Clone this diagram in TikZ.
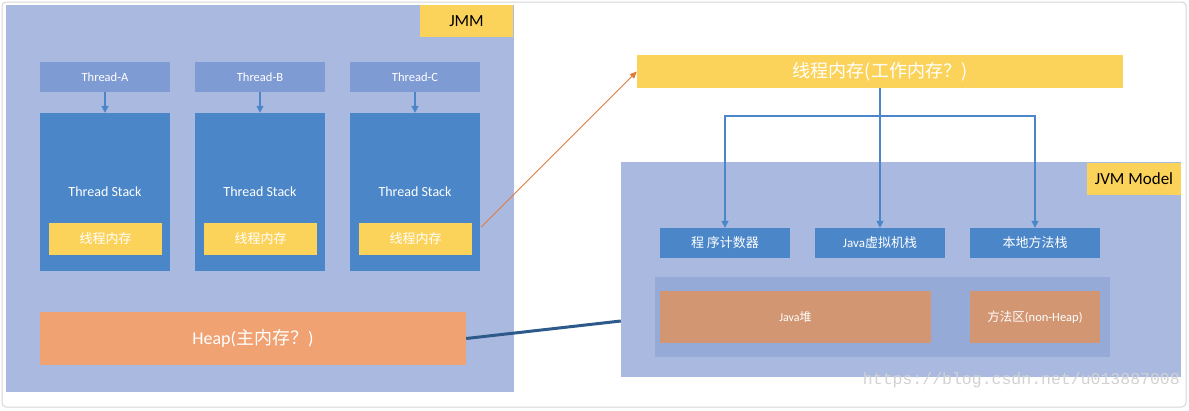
\documentclass[tikz,border=0pt]{standalone}
\usepackage{fontspec}
\setmainfont{Carlito}
\newfontfamily\cjk{Noto Sans CJK SC}
\newfontfamily\wmfont{Liberation Mono}
\usetikzlibrary{arrows.meta,calc}
\definecolor{jmmbg}{HTML}{A9B9E0}
\definecolor{hdr}{HTML}{7F9BD4}
\definecolor{stk}{HTML}{4A86C8}
\definecolor{ylw}{HTML}{FCD35A}
\definecolor{heapc}{HTML}{F0A273}
\definecolor{jheap}{HTML}{D29672}
\definecolor{panel}{HTML}{95AAD6}
\definecolor{darkln}{HTML}{2E5A8B}
\definecolor{orng}{HTML}{E07B3A}
\definecolor{frame}{HTML}{D6D6D6}
\definecolor{wm}{HTML}{D2D2D2}
\tikzset{
  blk/.style={rectangle, inner sep=0pt, draw=none, text=white, align=center},
  hdrbox/.style={blk, fill=hdr, minimum width=130pt, minimum height=30pt, font=\fontsize{12.5}{14}\selectfont},
  stkbox/.style={blk, fill=stk, minimum width=130pt, minimum height=158pt},
  memsm/.style={blk, fill=ylw, minimum width=113pt, minimum height=32pt, font=\cjk\fontsize{13}{15}\selectfont},
  jvmbox/.style={blk, fill=stk, minimum width=130pt, minimum height=30pt, font=\fontsize{13}{15}\selectfont},
  lbl/.style={rectangle, inner sep=0pt, fill=ylw, text=black, font=\fontsize{17}{19}\selectfont},
  tip/.style={-{Triangle[width=7pt,length=7pt]}},
}
\begin{document}
\begin{tikzpicture}[x=1pt,y=-1pt]
\useasboundingbox (0,0) rectangle (1189,410);
\draw[frame, fill=white, rounded corners=4pt, line width=1pt] (2,2) rectangle (1186,407);

% JMM
\node[fill=jmmbg, inner sep=0pt, minimum width=508pt, minimum height=387pt] (jmm) at (260,198.5) {};
\node[lbl, minimum width=93pt, minimum height=32pt] (jmmlbl) at (466.5,21) {JMM};

\foreach \n/\x/\t in {A/105/Thread-A, B/260/Thread-B, C/415/Thread-C}{
  \node[hdrbox] (h\n) at (\x,77) {\t};
  \node[stkbox] (s\n) at (\x,192) {};
  \node[text=white, font=\fontsize{14}{16}\selectfont, inner sep=0pt] (st\n) at (\x,192) {Thread Stack};
  \node[memsm] (m\n) at ($(\x,239)+(0.5,0)$) {线程内存};
  \draw[stk, line width=1.2pt, tip] (h\n.south) -- (s\n.north);
}

\node[blk, fill=heapc, minimum width=426pt, minimum height=53pt, font=\fontsize{18}{20}\selectfont] (heap) at (253,338.5) {Heap({\cjk 主内存？})};

% Thread memory top
\node[blk, fill=ylw, minimum width=486pt, minimum height=33pt, font=\cjk\fontsize{18}{20}\selectfont] (tm) at (880,71.5) {线程内存(工作内存？)};

% JVM Model
\node[fill=jmmbg, inner sep=0pt, minimum width=560pt, minimum height=215pt] (jvm) at (901,269.5) {};
\node[lbl, minimum width=94pt, minimum height=32pt] (jvmlbl) at (1134,179) {JVM Model};

\node[jvmbox] (pc) at (725,243) {{\cjk 程 序计数器}};
\node[jvmbox] (vs) at (880,243) {Java{\cjk 虚拟机栈}};
\node[jvmbox] (ns) at (1035,243) {{\cjk 本地方法栈}};

\node[fill=panel, inner sep=0pt, minimum width=455pt, minimum height=80pt] (pnl) at (882.5,317) {};
\node[blk, fill=jheap, minimum width=271pt, minimum height=52pt, font=\fontsize{12}{14}\selectfont] (jh) at (795.5,317) {Java{\cjk 堆}};
\node[blk, fill=jheap, minimum width=130pt, minimum height=52pt, font=\fontsize{12.5}{14}\selectfont] (ma) at (1035,317) {{\cjk 方法区}(non-Heap)};

% connectors
\coordinate (split) at (880,116);
\draw[stk, line width=1.2pt] (tm.south) -- (split);
\draw[stk, line width=1.2pt, tip] (split) -| (pc.north);
\draw[stk, line width=1.2pt, tip] (split) -- (vs.north);
\draw[stk, line width=1.2pt, tip] (split) -| (ns.north);

\coordinate (oc) at ($(sC.east)+(1,35)$);
\draw[orng, line width=0.9pt, -{Triangle[width=6pt,length=7pt]}] (oc) -- (tm.west);

\coordinate (jin) at ($(jvm.west)+(0,51.5)$);
\draw[darkln, line width=3pt] (heap.east) -- (jin);

% watermark
\node[text=wm, font=\wmfont\fontsize{16.5}{18}\selectfont, anchor=east, inner sep=0pt] (wmk) at (1180,380) {https://blog.csdn.net/u013887008};
\end{tikzpicture}
\end{document}
